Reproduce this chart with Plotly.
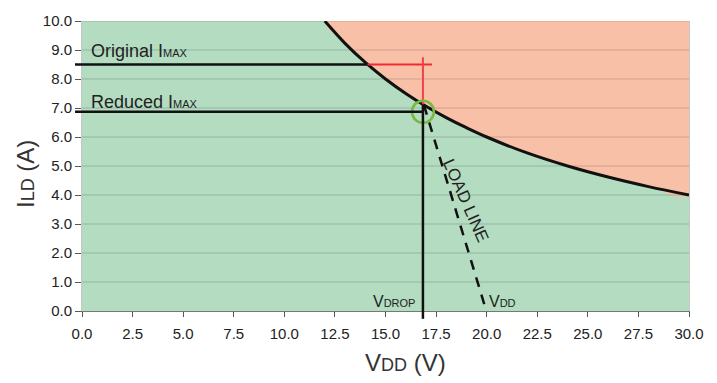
import plotly.graph_objects as go

# ---- data ----
CURVE_V = [12.0, 13.0, 14.0, 15.0, 16.0, 17.0, 18.0, 19.0, 20.0, 22.0, 24.0, 26.0, 28.0, 30.0]
CURVE_I = [10.0, 9.23, 8.57, 8.0, 7.5, 7.06, 6.67, 6.32, 6.0, 5.45, 5.0, 4.62, 4.29, 4.0]
Y_TICKS = [0, 1, 2, 3, 4, 5, 6, 7, 8, 9, 10]
X_TICKS = [0, 2.5, 5, 7.5, 10, 12.5, 15, 17.5, 20, 22.5, 25, 27.5, 30]
I_ORIGINAL = 8.5
I_REDUCED = 6.87
V_ORIG_CROSS = 14.1      # where original Imax meets curve
V_RED_END = 17.3         # end of red horizontal marker
V_DROP = 16.85
I_RED_TOP = 8.75         # top of red vertical marker
I_CURVE_AT_DROP = 7.12
V_DD = 20.0
LOAD_V = [16.9, 20.07]
LOAD_I = [7.1, -0.2]

GREEN = "#b3dcc1"
RED = "#f9c0a8"
FONT = "Liberation Sans, Arial, sans-serif"

fig = go.Figure()

# red (unsafe) region above the curve
fig.add_trace(go.Scatter(
    x=CURVE_V + [CURVE_V[-1], CURVE_V[0]],
    y=CURVE_I + [Y_TICKS[-1], Y_TICKS[-1]],
    fill="toself", fillcolor=RED, mode="lines",
    line=dict(width=0, shape="spline"), hoverinfo="skip", showlegend=False))

# grid lines drawn over the fills
gx, gy = [], []
for t in Y_TICKS[1:]:
    gx += [X_TICKS[0], X_TICKS[-1], None]
    gy += [t, t, None]
fig.add_trace(go.Scatter(x=gx, y=gy, mode="lines",
                         line=dict(color="rgba(0,0,0,0.17)", width=1.2),
                         hoverinfo="skip", showlegend=False))

# power curve
fig.add_trace(go.Scatter(x=CURVE_V, y=CURVE_I, mode="lines",
                         line=dict(color="#111", width=3, shape="spline"),
                         hoverinfo="skip", showlegend=False))

# red markers
fig.add_trace(go.Scatter(x=[V_ORIG_CROSS, V_RED_END], y=[I_ORIGINAL, I_ORIGINAL], mode="lines",
                         line=dict(color="#ee2b33", width=2), showlegend=False, hoverinfo="skip"))
fig.add_trace(go.Scatter(x=[V_DROP, V_DROP], y=[I_RED_TOP, I_CURVE_AT_DROP], mode="lines",
                         line=dict(color="#f0404a", width=2), showlegend=False, hoverinfo="skip"))

# load line
fig.add_trace(go.Scatter(x=LOAD_V, y=LOAD_I, mode="lines", cliponaxis=False,
                         line=dict(color="#111", width=2.5, dash="10px,8px"),
                         showlegend=False, hoverinfo="skip"))

# black straight lines (extend a little beyond the axes)
x_left = -0.0115
fig.add_shape(type="line", xref="paper", yref="y", x0=x_left, x1=V_ORIG_CROSS / 30,
              y0=I_ORIGINAL, y1=I_ORIGINAL, line=dict(color="#111", width=2.5), layer="above")
fig.add_shape(type="line", xref="paper", yref="y", x0=x_left, x1=V_DROP / 30,
              y0=I_REDUCED, y1=I_REDUCED, line=dict(color="#111", width=2.5), layer="above")
fig.add_shape(type="line", xref="x", yref="paper", x0=V_DROP, x1=V_DROP,
              y0=-0.027, y1=I_CURVE_AT_DROP / 10, line=dict(color="#111", width=2.5), layer="above")

# operating point circle
fig.add_trace(go.Scatter(x=[V_DROP], y=[I_REDUCED], mode="markers", cliponaxis=False,
                         marker=dict(symbol="circle-open", size=22,
                                     line=dict(color="#78b843", width=2.5), color="#78b843"),
                         showlegend=False, hoverinfo="skip"))

ann = []
ann.append(dict(x=0.35, y=8.95, xref="x", yref="y", xanchor="left", yanchor="middle",
                text="Original I<span style='font-size:11px'>MAX</span>",
                showarrow=False, font=dict(size=18, color="#222", family=FONT)))
ann.append(dict(x=0.35, y=7.22, xref="x", yref="y", xanchor="left", yanchor="middle",
                text="Reduced I<span style='font-size:11px'>MAX</span>",
                showarrow=False, font=dict(size=18, color="#222", family=FONT)))
ann.append(dict(x=V_DROP, y=0.34, xref="x", yref="y", xanchor="right", yanchor="middle", xshift=-6,
                text="V<span style='font-size:11px'>DROP</span>",
                showarrow=False, font=dict(size=16, color="#222", family=FONT)))
ann.append(dict(x=V_DD, y=0.34, xref="x", yref="y", xanchor="left", yanchor="middle", xshift=0,
                text="V<span style='font-size:11px'>DD</span>",
                showarrow=False, font=dict(size=16, color="#222", family=FONT)))
ann.append(dict(x=18.95, y=3.8, xref="x", yref="y", textangle=66,
                text="LOAD LINE", showarrow=False,
                font=dict(size=17, color="#222", family=FONT)))
ann.append(dict(x=16.0, y=-0.179, xref="x", yref="paper", xanchor="center", yanchor="middle",
                text="V<span style='font-size:18px'>DD</span> (V)", showarrow=False,
                font=dict(size=24, color="#333", family=FONT)))
ann.append(dict(x=-0.092, y=0.473, xref="paper", yref="paper", xanchor="center", yanchor="middle",
                textangle=-90, text="I<span style='font-size:18px'>LD</span> (A)", showarrow=False,
                font=dict(size=24, color="#333", family=FONT)))

fig.update_layout(
    width=717, height=383,
    margin=dict(l=82, r=28, t=15, b=72),
    paper_bgcolor="white", plot_bgcolor=GREEN,
    font=dict(family=FONT, size=15, color="#222"),
    annotations=ann,
    xaxis=dict(range=[0, 30], tickvals=X_TICKS, tickformat=".1f", ticks="outside", ticklen=5,
               tickcolor="#555", showline=True, linecolor="#777", linewidth=1, showgrid=False,
               zeroline=False, layer="above traces", ticklabelstandoff=4,
               tickfont=dict(size=15, color="#222")),
    yaxis=dict(range=[0, 10], tickvals=Y_TICKS, tickformat=".1f", ticks="outside", ticklen=6,
               tickcolor="#555", showline=True, linecolor="rgba(0,0,0,0.22)", linewidth=1,
               mirror=True, showgrid=False, zeroline=False, layer="above traces",
               tickfont=dict(size=15, color="#222")),
)

fig.write_html("out.html", config={"displayModeBar": False},
               post_script="document.body.style.margin='0';document.body.style.overflow='hidden';")
